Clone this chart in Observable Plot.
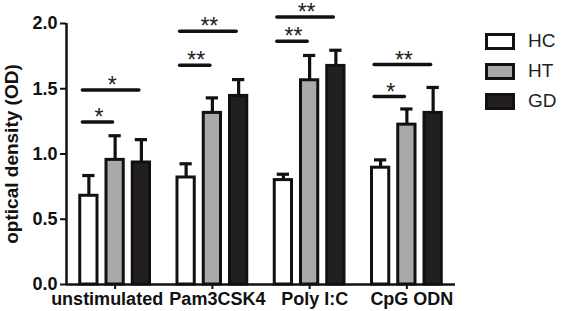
<!DOCTYPE html>
<html>
<head>
<meta charset="utf-8">
<script src="https://cdn.jsdelivr.net/npm/d3@7"></script>
<script src="https://cdn.jsdelivr.net/npm/@observablehq/plot@0.6"></script>
<style>
  html, body { margin: 0; padding: 0; background: #fff; }
  #wrap { position: relative; width: 561px; height: 311px; font-family: "Liberation Sans", Arial, sans-serif; }
  #legend { position: absolute; left: 485px; top: 26px; }
  .item { display: flex; align-items: center; height: 30px; }
  .sw { width: 24px; height: 11px; border: 3px solid #111; margin-right: 13px; }
  .lab { font-size: 19px; color: #222; }
</style>
</head>
<body>
<div id="wrap"><div id="legend"></div></div>
<script>
// ---- data ----
const categories = ["unstimulated", "Pam3CSK4", "Poly I:C", "CpG ODN"];
const series = ["HC", "HT", "GD"];
const seriesFill = ["#ffffff", "#a9a9ac", "#231f20"];
const hcMean = [0.68, 0.82, 0.80, 0.895];
const hcErr  = [0.155, 0.105, 0.045, 0.06];
const htMean = [0.955, 1.315, 1.565, 1.225];
const htErr  = [0.185, 0.115, 0.19, 0.12];
const gdMean = [0.935, 1.445, 1.675, 1.315];
const gdErr  = [0.175, 0.125, 0.12, 0.195];
const sigGroup = [0, 0, 1, 1, 2, 2, 3, 3];
const sigFrom  = ["HC", "HC", "HC", "HC", "HC", "HC", "HC", "HC"];
const sigTo    = ["HT", "GD", "HT", "GD", "HT", "GD", "HT", "GD"];
const sigLevel = [1.245, 1.49, 1.68, 1.94, 1.864, 2.05, 1.44, 1.685];
const sigLabel = ["*", "*", "**", "**", "**", "**", "*", "**"];
const yTicks = [0, 0.5, 1.0, 1.5, 2.0];

// ---- build tables ----
const barStep = 0.27; // spacing between bars within a group (group units)
const means = [hcMean, htMean, gdMean];
const errs = [hcErr, htErr, gdErr];
const bars = [];
categories.forEach((c, g) => {
  series.forEach((s, k) => {
    bars.push({g, series: s, x: g + (k - 1) * barStep, v: means[k][g], e: errs[k][g]});
  });
});
const pos = (g, s) => g + (series.indexOf(s) - 1) * barStep;
const sig = sigGroup.map((g, i) => ({
  x1: pos(g, sigFrom[i]), x2: pos(g, sigTo[i]), level: sigLevel[i], label: sigLabel[i]
}));
const catRows = categories.map((c, g) => ({g, c}));

const font = '"Liberation Sans", Arial, sans-serif';
const labelStyle = {fontSize: 18, fontWeight: "bold", fill: "#111", lineAnchor: "top"};

const chart = Plot.plot({
  width: 561,
  height: 311,
  marginLeft: 66,
  marginRight: 106,
  marginTop: 23,
  marginBottom: 27,
  style: {fontFamily: font, background: "white", overflow: "visible", color: "#111"},
  x: {domain: [-0.5, 3.5], axis: null},
  y: {domain: [0, 2], axis: null},
  color: {domain: series, range: seriesFill},
  marks: [
    // bars
    Plot.rectY(bars, {
      x1: d => d.x - barStep / 2, x2: d => d.x + barStep / 2, y: "v",
      fill: "series", stroke: "#111", strokeWidth: 3, insetLeft: 4.5, insetRight: 4.5
    }),
    // error bars
    Plot.ruleX(bars, {x: "x", y1: "v", y2: d => d.v + d.e, stroke: "#111", strokeWidth: 3.2}),
    Plot.ruleY(bars, {
      y: d => d.v + d.e, x1: d => d.x - barStep / 2, x2: d => d.x + barStep / 2,
      insetLeft: 7, insetRight: 7, stroke: "#111", strokeWidth: 3.2
    }),
    // significance lines
    Plot.ruleY(sig, {
      y: "level", x1: "x1", x2: "x2", insetLeft: -6, insetRight: 2,
      stroke: "#111", strokeWidth: 3.5, strokeLinecap: "round"
    }),
    Plot.text(sig, {
      x: d => (d.x1 + d.x2) / 2, y: "level", text: "label", dx: -3, dy: 3,
      lineAnchor: "bottom", fontSize: 23, fill: "#222", fontFamily: font
    }),
    // axes
    Plot.ruleY([0], {stroke: "#111", strokeWidth: 2.5}),
    Plot.ruleX([-0.5], {stroke: "#111", strokeWidth: 2.5}),
    Plot.axisY({
      ticks: yTicks, tickFormat: d3.format(".1f"), tickSize: 6, tickPadding: 3,
      fontSize: 18, fontWeight: "bold", stroke: "#111", strokeWidth: 2, label: null, fill: "#111"
    }),
    // x ticks (category centres)
    Plot.ruleX(catRows, {x: "g", y1: 0, y2: 0, insetBottom: -5, stroke: "#111", strokeWidth: 2}),
    Plot.text(catRows.filter(d => d.g === 0), {
      x: "g", y: 0, text: "c", ...labelStyle, dy: 7.5, dx: -8
    }),
    Plot.text(catRows.filter(d => d.g > 0), {
      x: "g", y: 0, text: "c", ...labelStyle, dy: 7.5, dx: 5
    }),
    Plot.text(["optical density (OD)"], {
      frameAnchor: "left", textAnchor: "middle", rotate: -90, dx: -55,
      fontSize: 19, fontWeight: "bold", fill: "#111"
    })
  ]
});
document.getElementById("wrap").prepend(chart);

// legend
const legend = document.getElementById("legend");
series.forEach((s, k) => {
  const it = document.createElement("div");
  it.className = "item";
  const sw = document.createElement("div");
  sw.className = "sw";
  sw.style.background = seriesFill[k];
  const lb = document.createElement("span");
  lb.className = "lab";
  lb.textContent = s;
  it.append(sw, lb);
  legend.append(it);
});
</script>
</body>
</html>
